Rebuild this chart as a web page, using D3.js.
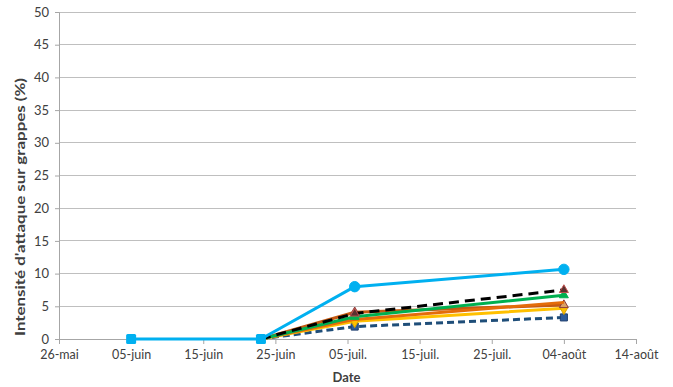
<!DOCTYPE html>
<html>
<head>
<meta charset="utf-8">
<script src="https://cdn.jsdelivr.net/npm/d3@7"></script>
<style>
  html, body { margin: 0; padding: 0; background: #fff; }
  svg text { font-family: Lato, "Open Sans", sans-serif; }
</style>
</head>
<body>
<svg id="chart" width="673" height="387"></svg>
<script>
// Observation dates
const dates = ["2013-06-23", "2013-07-06", "2013-08-04"];
const earlyDates = ["2013-06-05", "2013-06-23"];

// Attack intensity on grape bunches (%) per plot
const plotLightBlue = [0, 8.0, 10.65];
const plotLightBlueEarly = [0, 0];
const plotBlack = [0, 3.9, 7.5];
const plotGreen = [0, 3.4, 6.7];
const plotOrange = [0, 3.0, 5.6];
const plotBrown = [0, 4.1, 5.2];
const plotGold = [0, 2.7, 4.7];
const plotNavy = [0, 1.9, 3.3];

// Axis ticks
const xTickDates = ["2013-05-26", "2013-06-05", "2013-06-15", "2013-06-25", "2013-07-05",
                    "2013-07-15", "2013-07-25", "2013-08-04", "2013-08-14"];
const xTickLabels = ["26-mai", "05-juin", "15-juin", "25-juin", "05-juil.", "15-juil.",
                     "25-juil.", "04-août", "14-août"];
const yTicks = [0, 5, 10, 15, 20, 25, 30, 35, 40, 45, 50];

const parse = d3.utcParse("%Y-%m-%d");
const svg = d3.select("#chart");
const m = { left: 59, right: 636, top: 12, bottom: 339 };

const x = d3.scaleUtc()
  .domain([parse(xTickDates[0]), parse(xTickDates[xTickDates.length - 1])])
  .range([m.left, m.right]);
const y = d3.scaleLinear().domain([0, 50]).range([m.bottom, m.top]);

// Horizontal gridlines
svg.append("g")
  .selectAll("line")
  .data(yTicks.filter(v => v > 0))
  .join("line")
  .attr("x1", m.left).attr("x2", m.right)
  .attr("y1", d => y(d)).attr("y2", d => y(d))
  .attr("stroke", "#bfbfbf").attr("stroke-width", 1).attr("shape-rendering", "crispEdges");

// Y axis
const yAxis = svg.append("g")
  .attr("transform", `translate(${m.left},0)`)
  .call(d3.axisLeft(y).tickValues(yTicks).tickSize(4).tickPadding(6));
yAxis.select(".domain").attr("stroke", "#a6a6a6");
yAxis.selectAll(".tick line").attr("stroke", "#a6a6a6");
yAxis.selectAll(".tick text").attr("fill", "#404040").style("font-size", "13px");

// X axis
const xAxis = svg.append("g")
  .attr("transform", `translate(0,${m.bottom})`)
  .call(d3.axisBottom(x)
    .tickValues(xTickDates.map(parse))
    .tickFormat((d, i) => xTickLabels[i])
    .tickSize(5).tickPadding(6));
xAxis.select(".domain").attr("stroke", "#a6a6a6");
xAxis.selectAll(".tick line").attr("stroke", "#a6a6a6");
xAxis.selectAll(".tick text").attr("fill", "#404040").style("font-size", "12.5px");

// Axis titles
svg.append("text")
  .attr("x", m.left + (m.right - m.left) / 2 - 1)
  .attr("y", 382)
  .attr("text-anchor", "middle")
  .attr("font-weight", "bold")
  .attr("fill", "#404040")
  .style("font-size", "13px")
  .text("Date");

svg.append("text")
  .attr("transform", "translate(25,207) rotate(-90)")
  .attr("text-anchor", "middle")
  .attr("font-weight", "bold")
  .attr("fill", "#404040")
  .style("font-size", "14px")
  .attr("textLength", 258)
  .attr("lengthAdjust", "spacingAndGlyphs")
  .text("Intensité d'attaque sur grappes (%)");

// Series definitions (drawn back to front)
const series = [
  { values: plotNavy, color: "#1f4e79", dash: "7,4", marker: "square", size: 50, mfill: "#2e5c9a", mstroke: "#1f3f6e" },
  { values: plotGold, color: "#ffc000", dash: null, marker: "diamond", size: 45, mfill: "#ffc000", mstroke: "#d9a400" },
  { values: plotBrown, color: "#c55a11", dash: null, marker: "triangle", size: 35, mfill: "#d9a066", mstroke: "#8b3a3a" },
  { values: plotOrange, color: "#e46c0a", dash: null, marker: "none" },
  { values: plotGreen, color: "#00b050", dash: null, marker: "triangle", size: 35, mfill: "#00b050", mstroke: "#00b050" },
  { values: plotBlack, color: "#000000", dash: "10,6", marker: "triangle", size: 35, mfill: "#5a3030", mstroke: "#c0504d" },
  { values: plotLightBlue, color: "#00b0f0", dash: null, marker: "circle", size: 85, mfill: "#00b0f0", mstroke: "#00b0f0" }
];

const line = d3.line().x(d => x(d.date)).y(d => y(d.v));

const symbolFor = {
  square: d3.symbolSquare,
  diamond: d3.symbolDiamond,
  triangle: d3.symbolTriangle,
  circle: d3.symbolCircle
};

function drawSeries(s, dateList) {
  const pts = s.values.map((v, i) => ({ date: parse(dateList[i]), v }));
  svg.append("path")
    .datum(pts)
    .attr("d", line)
    .attr("fill", "none")
    .attr("stroke", s.color)
    .attr("stroke-width", 3)
    .attr("stroke-linejoin", "round")
    .attr("stroke-dasharray", s.dash);
  if (s.marker !== "none") {
    svg.append("g")
      .selectAll("path")
      .data(pts.slice(1))
      .join("path")
      .attr("transform", d => `translate(${x(d.date)},${y(d.v)})`)
      .attr("d", d3.symbol().type(symbolFor[s.marker]).size(s.size))
      .attr("fill", s.mfill)
      .attr("stroke", s.mstroke)
      .attr("stroke-width", 1);
  }
}

series.forEach(s => drawSeries(s, dates));

// Early light-blue segment with square markers
const early = earlyDates.map((d, i) => ({ date: parse(d), v: plotLightBlueEarly[i] }));
svg.append("path")
  .datum(early)
  .attr("d", line)
  .attr("fill", "none")
  .attr("stroke", "#00b0f0")
  .attr("stroke-width", 3);
svg.append("g")
  .selectAll("rect")
  .data(early)
  .join("rect")
  .attr("x", d => x(d.date) - 5)
  .attr("y", d => y(d.v) - 5)
  .attr("width", 10).attr("height", 10)
  .attr("rx", 1.5)
  .attr("fill", "#00b0f0");
</script>
</body>
</html>
